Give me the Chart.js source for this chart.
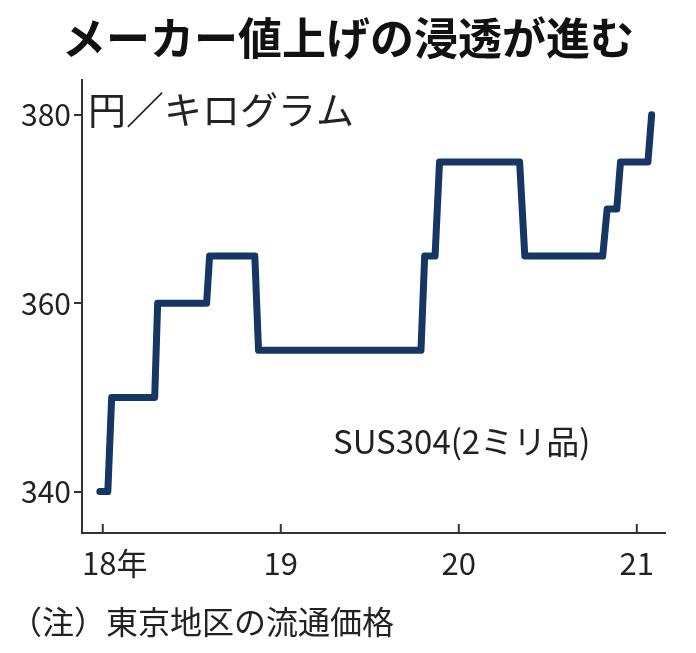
<!DOCTYPE html>
<html><head><meta charset="utf-8">
<script src="https://cdn.jsdelivr.net/npm/chart.js@4"></script>
<style>html,body{margin:0;padding:0;background:#fff}#w{width:696px;height:653px}</style>
</head><body><div id="w"><canvas id="c"></canvas></div>
<script>
const monthsX = [-0.2,0.34,0.6,3.5,3.7,7.0,7.2,10.25,10.5,21.45,21.7,22.4,22.7,28.1,28.45,33.7,34.0,34.65,34.9,36.75,37.0];
const priceY = [340,340,350,350,360,360,365,365,355,355,365,365,375,375,365,365,370,370,375,375,380];
const xTickVals = [0,12,24,36];
const xTickLabels = ['18年','19','20','21'];
const yTickVals = [340,360,380];
const F = '"Noto Sans CJK JP","Noto Sans",sans-serif';
const deco = {
  id:'deco',
  afterDraw(c){
    const g=c.ctx, x=c.scales.x, y=c.scales.y, a=c.chartArea;
    g.save();
    g.strokeStyle='#333'; g.lineWidth=2;
    xTickVals.forEach(v=>{const p=x.getPixelForValue(v);g.beginPath();g.moveTo(p,a.bottom);g.lineTo(p,a.bottom-9);g.stroke();});
    g.fillStyle='#222'; g.textAlign='center'; g.textBaseline='middle';
    g.font='31px '+F;
    xTickVals.forEach((v,i)=>g.fillText(xTickLabels[i],x.getPixelForValue(v)+(i===0?12:0),a.bottom+30));
    g.font='bold 44px '+F; g.fillStyle='#111';
    g.fillText('メーカー値上げの浸透が進む',348,38);
    g.font='38px '+F; g.fillStyle='#222'; g.textAlign='left';
    g.fillText('円／キログラム',88,110);
    g.font='33px '+F;
    g.fillText('SUS304(2ミリ品)',333,441);
    g.font='32px '+F;
    g.fillText('（注）東京地区の流通価格',10,622);
    g.restore();
  }
};
new Chart(document.getElementById('c'),{
  type:'line',
  data:{datasets:[{data:monthsX.map((v,i)=>({x:v,y:priceY[i]})),borderColor:'#163664',borderWidth:7,pointRadius:0,tension:0,borderCapStyle:'round',borderJoinStyle:'round'}]},
  options:{responsive:true,maintainAspectRatio:false,animation:false,
    layout:{padding:{top:80,right:31,left:0,bottom:0}},
    plugins:{legend:{display:false},tooltip:{enabled:false}},
    scales:{
      x:{type:'linear',min:-1.4,max:37.9,afterFit(s){s.height=120;},
        border:{color:'#333',width:2},grid:{display:false},ticks:{display:false}},
      y:{min:335.6,max:383.7,afterFit(s){s.width=82;},
        afterBuildTicks(s){s.ticks=yTickVals.map(v=>({value:v}));},
        border:{color:'#333',width:2},
        grid:{drawOnChartArea:false,tickLength:8,color:'#333',lineWidth:2},
        ticks:{color:'#222',font:{size:30,family:F},padding:3}}
    }
  },
  plugins:[deco]
});
</script></body></html>
